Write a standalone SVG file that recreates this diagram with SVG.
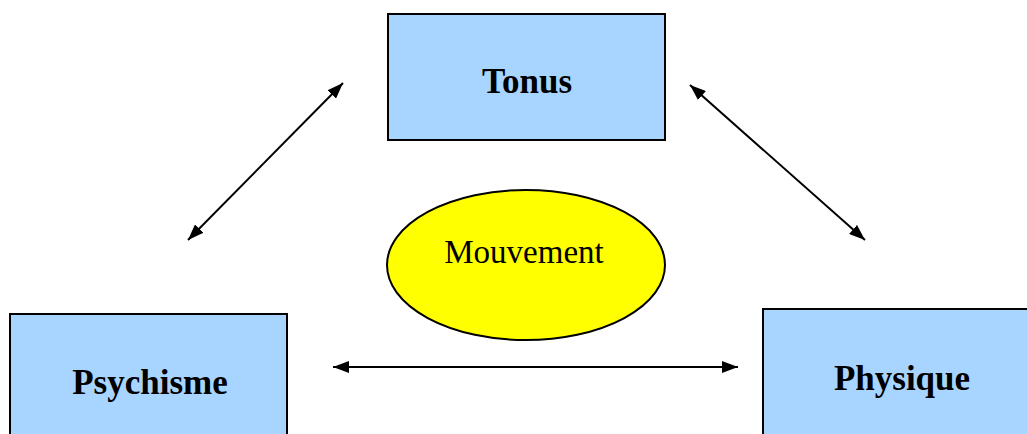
<svg xmlns="http://www.w3.org/2000/svg" width="1027" height="434" viewBox="0 0 1027 434">
<style>
.box{fill:#A8D5FF;stroke:#000;stroke-width:2}
.ell{fill:#FFFF00;stroke:#000;stroke-width:2}
.lbl{font-family:"Liberation Serif","Times New Roman",serif;font-size:35px;font-weight:bold;fill:#000;text-anchor:middle}
.lblr{font-family:"Liberation Serif","Times New Roman",serif;font-size:33px;fill:#000;text-anchor:middle}
.conn{stroke:#000;stroke-width:2;fill:none;marker-start:url(#ah);marker-end:url(#ah)}
</style>
<defs>
<marker id="ah" viewBox="0 0 16 12" refX="16" refY="6" markerWidth="16" markerHeight="12" orient="auto-start-reverse" markerUnits="userSpaceOnUse">
<path d="M0,0 L16,6 L0,12 z" fill="#000"/>
</marker>
</defs>
<rect width="1027" height="434" fill="#fff"/>
<g id="tonus">
<rect class="box" x="388" y="14" width="277" height="126"/>
<text class="lbl" x="527" y="93">Tonus</text>
</g>
<g id="mouvement">
<ellipse class="ell" cx="526" cy="265" rx="139" ry="75"/>
<text class="lblr" x="524" y="263">Mouvement</text>
</g>
<g id="psychisme">
<rect class="box" x="10" y="314" width="277" height="130"/>
<text class="lbl" x="150" y="394">Psychisme</text>
</g>
<g id="physique">
<rect class="box" x="763" y="309" width="274" height="135"/>
<text class="lbl" x="902" y="390">Physique</text>
</g>
<g id="connectors">
<line class="conn" x1="188" y1="240" x2="343" y2="83"/>
<line class="conn" x1="690" y1="85" x2="865" y2="240"/>
<line class="conn" x1="333" y1="367" x2="738" y2="367"/>
</g>
</svg>
